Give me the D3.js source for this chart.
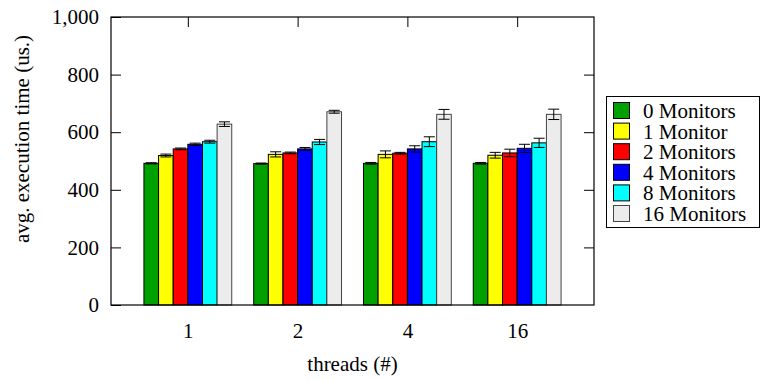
<!DOCTYPE html>
<html><head><meta charset="utf-8">
<script src="https://cdn.jsdelivr.net/npm/d3@7"></script>
<style>body{margin:0;background:#fff}svg{display:block}svg text{font-family:"Liberation Serif","Times New Roman",Times,"DejaVu Serif","Noto Serif",serif !important;fill:#000}</style>
</head><body><svg id="c" width="762" height="380"></svg>
<script>
const threads = ["1", "2", "4", "16"];
const seriesNames = ["0 Monitors", "1 Monitor", "2 Monitors", "4 Monitors", "8 Monitors", "16 Monitors"];
const colors = ["#00a000", "#ffff00", "#ff0000", "#0000ff", "#00ffff", "#ececec"];
const m0 = [492, 491, 492, 492];
const m1 = [519, 523, 523, 520];
const m2 = [542, 528, 527, 528];
const m4 = [558, 542, 542, 544];
const m8 = [567, 566, 567, 563];
const m16 = [628, 671, 662, 662];
const e0 = [2, 2, 3, 3];
const e1 = [5, 9, 12, 10];
const e2 = [3, 3, 3, 13];
const e4 = [4, 5, 11, 14];
const e8 = [5, 9, 17, 16];
const e16 = [8, 5, 17, 18];
const yTicks = [0, 200, 400, 600, 800, 1000];

const values = [m0, m1, m2, m4, m8, m16];
const errs = [e0, e1, e2, e4, e8, e16];

const FONT = '"Liberation Serif","Times New Roman",Times,"DejaVu Serif","Noto Serif",serif';
const svg = d3.select("#c").attr("font-family", FONT);
const L = 111, R = 594, T = 17, B = 305;
const x = d3.scaleLinear().domain([-0.7, threads.length - 0.3]).range([L, R]);
const y = d3.scaleLinear().domain([0, 1000]).range([B, T]);
const bw = 2 / 15; // bar width in group units
const fs = 21;

// bars
seriesNames.forEach((s, si) => {
  threads.forEach((t, gi) => {
    const cx = gi + (si - 2.5) * bw;
    const v = values[si][gi], e = errs[si][gi];
    svg.append("rect")
      .attr("x", x(cx - bw / 2)).attr("y", y(v))
      .attr("width", x(cx + bw / 2) - x(cx - bw / 2)).attr("height", y(0) - y(v))
      .attr("fill", colors[si]).attr("stroke", si === 5 ? "#444" : "#000").attr("stroke-width", 1);
    const px = x(cx);
    const g = svg.append("g").attr("stroke", "#000").attr("stroke-width", 1);
    g.append("line").attr("x1", px).attr("x2", px).attr("y1", y(v - e)).attr("y2", y(v + e));
    g.append("line").attr("x1", px - 5.5).attr("x2", px + 5.5).attr("y1", y(v - e)).attr("y2", y(v - e));
    g.append("line").attr("x1", px - 5.5).attr("x2", px + 5.5).attr("y1", y(v + e)).attr("y2", y(v + e));
  });
});

// frame
svg.append("rect").attr("x", L).attr("y", T).attr("width", R - L).attr("height", B - T)
  .attr("fill", "none").attr("stroke", "#000").attr("stroke-width", 1.2);

// y axis
const yAxis = d3.axisLeft(y).tickValues(yTicks).tickSize(-10).tickPadding(12)
  .tickFormat(d3.format(","));
const ga = svg.append("g").attr("transform", `translate(${L},0)`).call(yAxis);
ga.attr("font-family", FONT).attr("font-size", fs);
ga.select(".domain").remove();
ga.selectAll("line").attr("stroke", "#000");
// mirror ticks right
const yAxisR = d3.axisRight(y).tickValues(yTicks.slice(1, -1)).tickSize(-10).tickFormat("");
const gr = svg.append("g").attr("transform", `translate(${R},0)`).call(yAxisR);
gr.select(".domain").remove();

// x axis
const xAxis = d3.axisBottom(x).tickValues(d3.range(threads.length)).tickSize(0).tickPadding(18)
  .tickFormat(i => threads[i]);
const gx = svg.append("g").attr("transform", `translate(0,${B})`).call(xAxis);
gx.attr("font-family", FONT).attr("font-size", fs);
gx.select(".domain").remove();
// top mirrored ticks
const xAxisT = d3.axisTop(x).tickValues(d3.range(threads.length)).tickSize(-10).tickFormat("");
const gt = svg.append("g").attr("transform", `translate(0,${T})`).call(xAxisT);
gt.select(".domain").remove();

// titles
svg.append("text").attr("x", (L + R) / 2).attr("y", 371).attr("text-anchor", "middle")
  .attr("font-size", fs).text("threads (#)");
svg.append("text").attr("transform", "translate(29,139) rotate(-90)").attr("text-anchor", "middle")
  .attr("font-size", fs).text("avg. execution time (us.)");

// legend
const lg = svg.append("g");
lg.append("rect").attr("x", 606.5).attr("y", 96.5).attr("width", 153).attr("height", 131)
  .attr("fill", "#fff").attr("stroke", "#000");
seriesNames.forEach((s, i) => {
  const cy = 110.5 + i * 20.6;
  lg.append("rect").attr("x", 613.5).attr("y", cy - 8).attr("width", 16).attr("height", 16)
    .attr("fill", colors[i]).attr("stroke", i === 5 ? "#444" : "#000");
  lg.append("text").attr("x", 643).attr("y", cy + 7.5).attr("font-size", fs).text(s);
});
</script></body></html>
